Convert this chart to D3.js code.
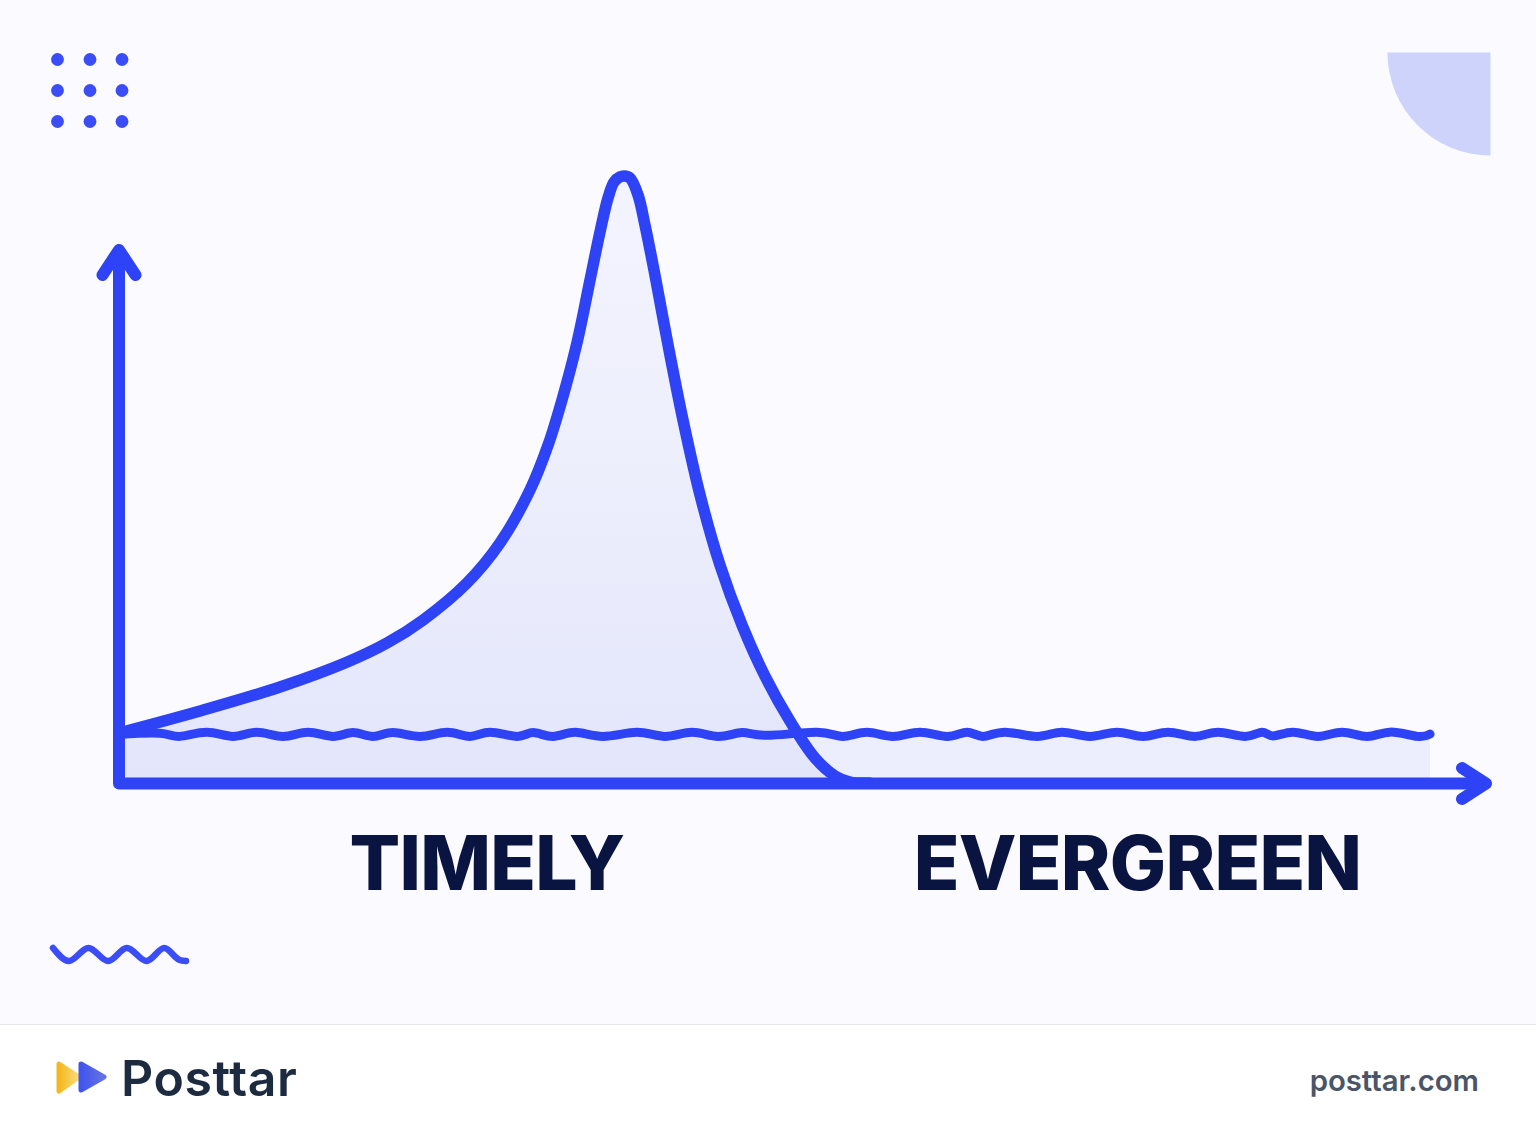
<!DOCTYPE html>
<html>
<head>
<meta charset="utf-8">
<script src="https://d3js.org/d3.v7.min.js"></script>
<style>
  html, body { margin: 0; padding: 0; background: #fff; }
  svg { display: block; }
</style>
</head>
<body>
<svg id="chart" width="1536" height="1136"></svg>
<script>
// time runs 0-100 along the axis, attention 0-100 up it
const timelyTime = [0, 6.18, 12.28, 17.24, 20.44, 23.19, 26.54, 29.06, 31.35, 32.73, 33.79, 34.93, 35.93, 36.69, 37.3, 37.76, 38.21, 38.52, 38.98, 39.59, 40.12, 40.88, 41.88, 43.02, 44.32, 45.84, 47.52, 49.27, 51.18, 53.09, 54.62, 55.77, 57.29];
const timelyValue = [8.24, 11.86, 15.82, 19.77, 23.06, 26.85, 32.95, 39.54, 48.27, 55.68, 63.1, 72.49, 82.87, 90.77, 96.38, 99.01, 99.84, 100, 99.67, 96.87, 91.93, 83.69, 72.16, 59.8, 47.45, 35.91, 26.03, 17.63, 10.21, 4.12, 1.15, 0.16, 0];

const evergreenTime = [0, 3.13, 4.65, 6.71, 8.7, 10.53, 12.51, 14.42, 16.32, 17.85, 19.37, 20.9, 22.96, 25.02, 26.77, 28.3, 30.36, 31.58, 33.1, 34.78, 36.92, 39.51, 41.65, 43.71, 45.69, 47.52, 49.43, 53.24, 55.22, 57.06, 59.04, 61.1, 63.16, 64.68, 65.9, 67.58, 70.02, 71.93, 74.07, 76.13, 78.11, 80.02, 82.07, 83.83, 85.89, 87.19, 88.03, 89.55, 91.46, 93.29, 95.19, 96.95, 99.01, 100];
const evergreenValue = [8.0, 8.2, 7.68, 8.35, 7.68, 8.35, 7.68, 8.35, 7.68, 8.3, 7.68, 8.3, 7.68, 8.35, 7.68, 8.35, 7.68, 8.3, 7.68, 8.35, 7.68, 8.35, 7.68, 8.35, 7.68, 8.3, 7.85, 8.35, 7.68, 8.35, 7.68, 8.38, 7.68, 8.38, 7.68, 8.38, 7.68, 8.38, 7.68, 8.38, 7.68, 8.38, 7.68, 8.38, 7.68, 8.38, 7.75, 8.38, 7.68, 8.38, 7.68, 8.38, 7.68, 8.05];

const axisLabels = ["TIMELY", "EVERGREEN"];
const brandName = "Posttar";
const brandUrl = "posttar.com";
const blue = "#2f43f6";

const svg = d3.select("#chart");
const defs = svg.append("defs");

const x = d3.scaleLinear().domain([0, 100]).range([119, 1430]);
const y = d3.scaleLinear().domain([0, 100]).range([783, 176]);

const timely = timelyTime.map((t, i) => [t, timelyValue[i]]);
const evergreen = evergreenTime.map((t, i) => [t, evergreenValue[i]]);

const timelyCurve = d3.curveCatmullRom.alpha(0.5);
const line = curve => d3.line().x(d => x(d[0])).y(d => y(d[1])).curve(curve);
const area = curve => d3.area().x(d => x(d[0])).y0(y(0)).y1(d => y(d[1])).curve(curve);

// background + footer
svg.append("rect").attr("width", 1536).attr("height", 1024).attr("fill", "#fafaff");
svg.append("rect").attr("y", 1024).attr("width", 1536).attr("height", 112).attr("fill", "#ffffff");
svg.append("line").attr("x1", 0).attr("x2", 1536).attr("y1", 1024.5).attr("y2", 1024.5).attr("stroke", "#e6e7ec");

// dots, top left
const dotCols = [57.5, 90, 122];
const dotRows = [59.5, 90.5, 121.5];
svg.append("g").selectAll("circle")
  .data(d3.cross(dotCols, dotRows))
  .join("circle")
  .attr("cx", d => d[0]).attr("cy", d => d[1]).attr("r", 6.4).attr("fill", "#3a4df6");

// quarter disc, top right
svg.append("path")
  .attr("d", d3.arc().innerRadius(0).outerRadius(103).startAngle(Math.PI).endAngle(Math.PI * 1.5)())
  .attr("transform", "translate(1490.5,52.5)")
  .attr("fill", "#cdd3fa");

// filled areas
const fade = defs.append("linearGradient").attr("id", "timelyFill")
  .attr("gradientUnits", "userSpaceOnUse")
  .attr("x1", 0).attr("x2", 0).attr("y1", y(100)).attr("y2", y(0));
fade.append("stop").attr("offset", "0%").attr("stop-color", "#f3f4fe");
fade.append("stop").attr("offset", "45%").attr("stop-color", "#edeffc");
fade.append("stop").attr("offset", "100%").attr("stop-color", "#e3e6fb");

svg.append("path").datum(evergreen).attr("d", area(d3.curveNatural)).attr("fill", "#eceefd");
svg.append("path").datum(timely).attr("d", area(timelyCurve)).attr("fill", "url(#timelyFill)");

// curves
svg.append("path").datum(timely).attr("d", line(timelyCurve))
  .attr("fill", "none").attr("stroke", blue).attr("stroke-width", 11.5).attr("stroke-linecap", "round");
svg.append("path").datum(evergreen).attr("d", line(d3.curveNatural))
  .attr("fill", "none").attr("stroke", blue).attr("stroke-width", 9).attr("stroke-linecap", "round");

// axes
svg.append("path")
  .attr("d", "M119,250V783.5H1486")
  .attr("fill", "none").attr("stroke", blue).attr("stroke-width", 12).attr("stroke-linejoin", "round");
svg.append("path")
  .attr("d", "M102.5,275L119,250L135.5,275")
  .attr("fill", "none").attr("stroke", blue).attr("stroke-width", 12)
  .attr("stroke-linecap", "round").attr("stroke-linejoin", "round");
svg.append("path")
  .attr("d", "M1462,768L1486,783.5L1462,799")
  .attr("fill", "none").attr("stroke", blue).attr("stroke-width", 12)
  .attr("stroke-linecap", "round").attr("stroke-linejoin", "round");

// category labels
svg.selectAll(".axis-label")
  .data(axisLabels)
  .join("text")
  .attr("class", "axis-label")
  .attr("x", (d, i) => [487, 1137.5][i])
  .attr("y", 890)
  .attr("text-anchor", "middle")
  .attr("font-family", "Inter")
  .attr("font-weight", 800)
  .attr("font-size", 75)
  .attr("letter-spacing", -0.7)
  .attr("fill", "#0a1440")
  .text(d => d);

// small squiggle, bottom left
const squiggleSteps = [0, 16, 36, 56, 75, 95, 113, 128, 135];
const squiggleLevels = [0, 1, 0, 1, 0, 1, 0, 0.9, 1];
const squiggleX = d3.scaleLinear().domain([0, 135]).range([53, 186]);
const squiggleY = d3.scaleLinear().domain([0, 1]).range([948, 961]);
svg.append("path")
  .attr("d", d3.line().x(d => squiggleX(d[0])).y(d => squiggleY(d[1])).curve(d3.curveMonotoneX)(squiggleSteps.map((s, i) => [s, squiggleLevels[i]])))
  .attr("fill", "none").attr("stroke", "#3a4df6").attr("stroke-width", 6.5).attr("stroke-linecap", "round");

// logo
const gradA = defs.append("linearGradient").attr("id", "logoA");
gradA.append("stop").attr("offset", "0%").attr("stop-color", "#f5b81c");
gradA.append("stop").attr("offset", "100%").attr("stop-color", "#f8dc80");
const gradB = defs.append("linearGradient").attr("id", "logoB");
gradB.append("stop").attr("offset", "0%").attr("stop-color", "#3f55ee");
gradB.append("stop").attr("offset", "100%").attr("stop-color", "#6672e0");
svg.append("path").attr("d", "M59,1064L79,1077L59,1091Z").attr("fill", "url(#logoA)")
  .attr("stroke", "url(#logoA)").attr("stroke-width", 5).attr("stroke-linejoin", "round");
svg.append("path").attr("d", "M81,1064L104,1077L81,1090Z").attr("fill", "url(#logoB)")
  .attr("stroke", "url(#logoB)").attr("stroke-width", 5).attr("stroke-linejoin", "round");

svg.append("text").attr("x", 121).attr("y", 1096)
  .attr("font-family", "Inter").attr("font-weight", 600).attr("font-size", 50)
  .attr("letter-spacing", 0.6)
  .attr("fill", "#1c2b3f").text(brandName);
svg.append("text").attr("x", 1479).attr("y", 1091).attr("text-anchor", "end")
  .attr("font-family", "Inter").attr("font-weight", 600).attr("font-size", 29.3)
  .attr("fill", "#4a5568").text(brandUrl);
</script>
</body>
</html>
